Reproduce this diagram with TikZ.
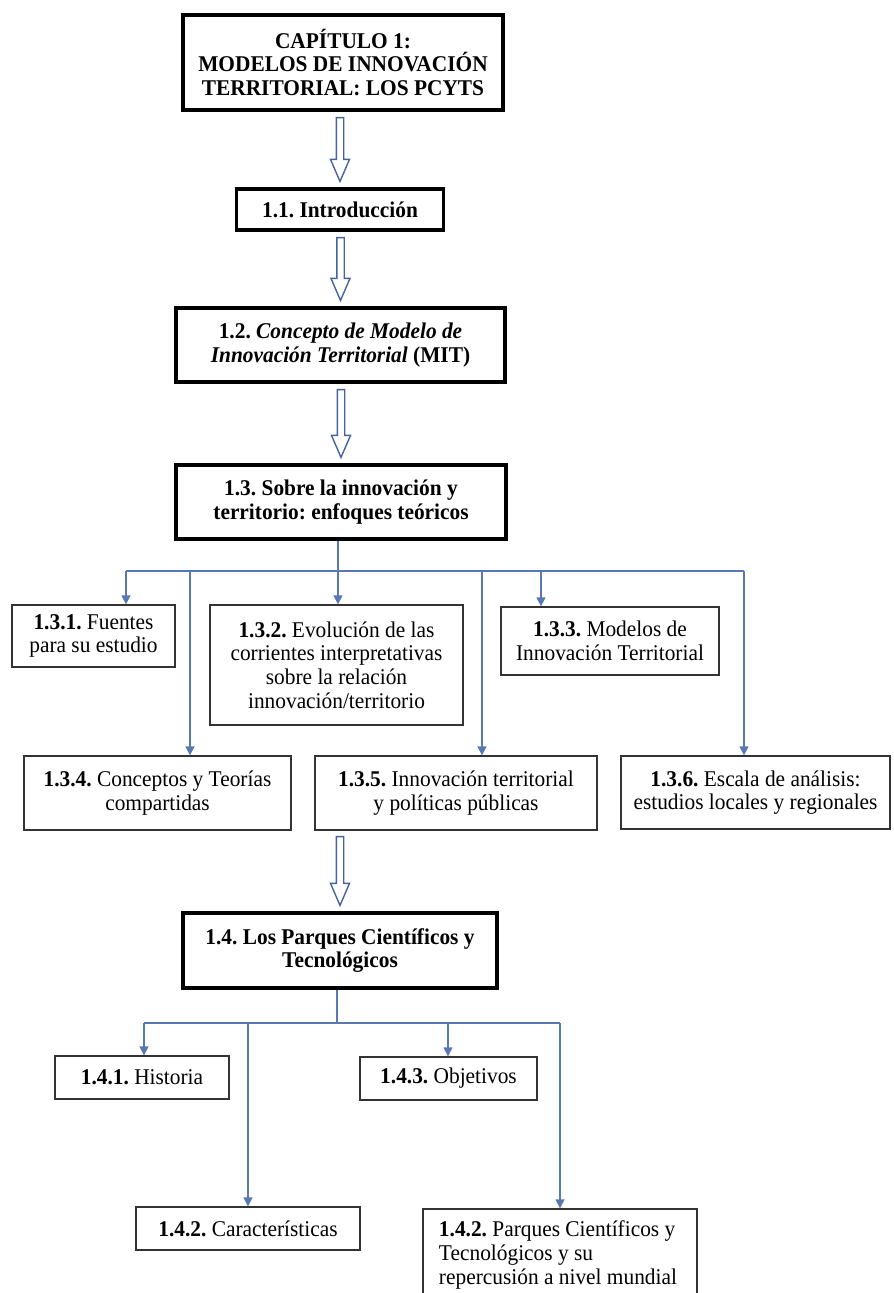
\documentclass[tikz,border=0pt]{standalone}
\usepackage{fontspec}
\setmainfont{Liberation Serif}[FakeStretch=0.95]
\usetikzlibrary{arrows.meta,calc}

\definecolor{linkblue}{RGB}{88,120,178}
\definecolor{arrowblue}{RGB}{70,100,155}
\newcommand\boxfont{\fontsize{22.5}{23.8}\selectfont}
\frenchspacing

% hollow block arrow from the bottom of one box to the top of the next
\newcommand\blockarrow[2]{%
  \draw[hollow] let \p1=($(#1.south)+(0,6)$), \p2=($(#2.north)+(0,-6)$) in
    (\x2-3.7pt,\y1) -- (\x2+3.7pt,\y1) -- (\x2+3.7pt,\y2+22pt) -- (\x2+9.5pt,\y2+22pt)
    -- (\x2,\y2) -- (\x2-9.5pt,\y2+22pt) -- (\x2-3.7pt,\y2+22pt) -- cycle;}

\tikzset{
  mainbox/.style={draw=black, line width=3.2pt, fill=white, inner sep=0pt,
    align=center, font=\boxfont\bfseries},
  subbox/.style={draw=black!80, line width=1.3pt, fill=white, inner sep=0pt,
    align=center, font=\boxfont},
  bus/.style={draw=linkblue, line width=1.4pt},
  conn/.style={bus, -{Triangle[width=9pt,length=9pt]}},
  hollow/.style={draw=arrowblue, line width=1.4pt, fill=white, line join=miter},
}

\begin{document}
\begin{tikzpicture}[x=1pt, y=-1pt]
\useasboundingbox (0,0) rectangle (894,1293);
\fill[white] (0,0) rectangle (894,1293);
\clip (0,0) rectangle (894,1293);

% main chain
\node[mainbox, minimum width=320pt, minimum height=95pt] (t) at (343,62.5)
  {CAPÍTULO 1:\\MODELOS DE INNOVACIÓN\\TERRITORIAL: LOS PCYTS};
\node[mainbox, minimum width=207pt, minimum height=41pt] (i11) at (340,209.5)
  {1.1. Introducción};
\node[mainbox, minimum width=329pt, minimum height=74pt] (i12) at (340.5,345)
  {1.2. \textit{Concepto de Modelo de}\\\textit{Innovación Territorial} (MIT)};
\node[mainbox, minimum width=330pt, minimum height=74pt] (i13) at (341,502)
  {1.3. Sobre la innovación y\\territorio: enfoques teóricos};

% section 1.3 children
\node[subbox, minimum width=163pt, minimum height=62pt] (b131) at (93.5,636)
  {\textbf{1.3.1.} Fuentes\\para su estudio};
\node[subbox, minimum width=253pt, minimum height=120pt] (b132) at (336.5,665)
  {\textbf{1.3.2.} Evolución de las\\corrientes interpretativas\\sobre la relación\\innovación/territorio};
\node[subbox, minimum width=218pt, minimum height=68pt] (b133) at (610,641)
  {\textbf{1.3.3.} Modelos de\\Innovación Territorial};
\node[subbox, minimum width=267pt, minimum height=74pt] (b134) at (157.5,793)
  {\textbf{1.3.4.} Conceptos y Teorías\\compartidas};
\node[subbox, minimum width=282pt, minimum height=74pt] (b135) at (456,793)
  {\textbf{1.3.5.} Innovación territorial\\y políticas públicas};
\node[subbox, minimum width=269pt, minimum height=73pt] (b136) at (755.5,792.5)
  {\textbf{1.3.6.} Escala de análisis:\\estudios locales y regionales};

\node[mainbox, minimum width=314pt, minimum height=75pt] (i14) at (340,950.5)
  {1.4. Los Parques Científicos y\\Tecnológicos};

% section 1.4 children
\node[subbox, minimum width=174pt, minimum height=43pt] (b141) at (142,1077.5)
  {\textbf{1.4.1.} Historia};
\node[subbox, minimum width=177pt, minimum height=43pt] (b143) at (448.5,1078.5)
  {\textbf{1.4.3.} Objetivos};
\node[subbox, minimum width=224pt, minimum height=43pt] (b142) at (248,1228.5)
  {\textbf{1.4.2.} Características};
\node[subbox, minimum width=274pt, minimum height=92pt, align=left] (b142b) at (560,1255)
  {\textbf{1.4.2.} Parques Científicos y\\Tecnológicos y su\\repercusión a nivel mundial\hspace*{4pt}};

% block arrows down the main chain
\blockarrow{t}{i11}
\blockarrow{i11}{i12}
\blockarrow{i12}{i13}
\blockarrow{b135}{i14}

% branching lines under 1.3
\coordinate (j13) at (338,571);
\coordinate (k131) at (126,571);
\coordinate (k134) at (190,571);
\coordinate (k135) at (482,571);
\coordinate (k133) at (541,571);
\coordinate (k136) at (744,571);
\draw[bus] (j13 |- i13.south) -- (j13);
\draw[bus] (k131) -- (k136);
\draw[conn] (k131) -- (k131 |- b131.north);
\draw[conn] (j13) -- (j13 |- b132.north);
\draw[conn] (k133) -- (k133 |- b133.north);
\draw[conn] (k134) -- (k134 |- b134.north);
\draw[conn] (k135) -- (k135 |- b135.north);
\draw[conn] (k136) -- (k136 |- b136.north);

% branching lines under 1.4
\coordinate (j14) at (337,1023);
\coordinate (k141) at (144,1023);
\coordinate (k142) at (248,1023);
\coordinate (k143) at (448,1023);
\coordinate (k144) at (560,1023);
\draw[bus] (j14 |- i14.south) -- (j14);
\draw[bus] (k141) -- (k144);
\draw[conn] (k141) -- (k141 |- b141.north);
\draw[conn] (k142) -- (k142 |- b142.north);
\draw[conn] (k143) -- (k143 |- b143.north);
\draw[conn] (k144) -- (k144 |- b142b.north);
\end{tikzpicture}
\end{document}
